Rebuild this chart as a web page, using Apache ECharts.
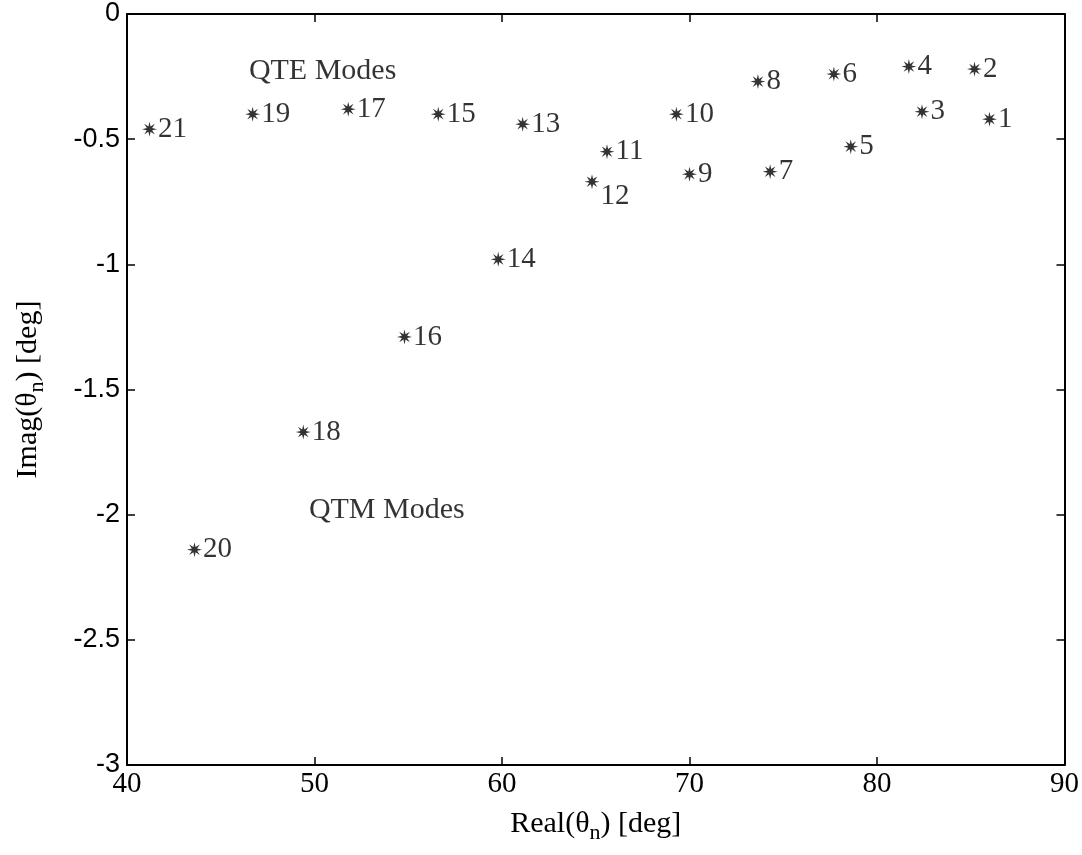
<!DOCTYPE html>
<html>
<head>
<meta charset="utf-8">
<script src="https://cdn.jsdelivr.net/npm/echarts@6/dist/echarts.min.js"></script>
<style>html,body{margin:0;padding:0;background:#fff;}#c{width:1082px;height:855px;}</style>
</head>
<body>
<div id="c"></div>
<script>
// ---- data ----
const modeIds  = ['1','2','3','4','5','6','7','8','9','10','11','12','13','14','15','16','17','18','19','20','21'];
const realPart = [86.0, 85.2, 82.4, 81.7, 78.6, 77.7, 74.3, 73.65, 70.0, 69.3, 65.6, 64.8, 61.1, 59.8, 56.6, 54.8, 51.8, 49.4, 46.7, 43.6, 41.2];
const imagPart = [-0.42, -0.22, -0.39, -0.21, -0.53, -0.24, -0.63, -0.27, -0.64, -0.40, -0.55, -0.67, -0.44, -0.98, -0.40, -1.29, -0.38, -1.67, -0.40, -2.14, -0.46];
const noteText = ['QTE Modes', 'QTM Modes'];
const noteX    = [46.5, 49.7];
const noteY    = [-0.23, -1.98];
const xTicks = {min: 40, max: 90, interval: 10};
const yTicks = {min: -3, max: 0, interval: 0.5};

// asterisk-like symbol (8 spokes)
function starPath() {
  const pts = [];
  for (let i = 0; i < 16; i++) {
    const a = Math.PI * i / 8;
    const r = (i % 2 === 0) ? 50 : 19;
    pts.push((50 + r * Math.sin(a)).toFixed(2) + ' ' + (50 - r * Math.cos(a)).toFixed(2));
  }
  return 'path://M' + pts.join(' L') + ' Z';
}

const pointData = realPart.map((x, i) => {
  const d = {value: [x, imagPart[i]], name: modeIds[i]};
  if (modeIds[i] === '12') d.label = {offset: [0, 15]};
  return d;
});
const noteData = noteText.map((t, i) => ({value: [noteX[i], noteY[i]], name: t}));

const serif = 'Liberation Serif, Times New Roman, serif';
const sans = 'Liberation Sans, Arial, sans-serif';

const chart = echarts.init(document.getElementById('c'));
chart.setOption({
  animation: false,
  backgroundColor: '#fff',
  grid: {left: 125, right: 15, top: 14, bottom: 90},
  xAxis: [{
    type: 'value', min: xTicks.min, max: xTicks.max, interval: xTicks.interval,
    position: 'bottom',
    axisLine: {show: true, onZero: false, lineStyle: {color: '#000', width: 2}},
    axisTick: {show: true, inside: true, length: 8, lineStyle: {color: '#000', width: 1.5}},
    axisLabel: {color: '#000', fontFamily: serif, fontSize: 29, margin: 5},
    splitLine: {show: false},
    name: '{a|Real(θ}{s|n}{a|) [deg]}',
    nameLocation: 'middle', nameGap: 40,
    nameTextStyle: {rich: {
      a: {fontFamily: serif, fontSize: 30, color: '#000', lineHeight: 34},
      s: {fontFamily: serif, fontSize: 22, color: '#000', padding: [18, 0, 0, 0], lineHeight: 34}
    }}
  }, {
    type: 'value', min: xTicks.min, max: xTicks.max, interval: xTicks.interval,
    position: 'top',
    axisLine: {show: true, onZero: false, lineStyle: {color: '#000', width: 2}},
    axisTick: {show: true, inside: true, length: 8, lineStyle: {color: '#000', width: 1.5}},
    axisLabel: {show: false}, splitLine: {show: false}
  }],
  yAxis: [{
    type: 'value', min: yTicks.min, max: yTicks.max, interval: yTicks.interval,
    position: 'left',
    axisLine: {show: true, onZero: false, lineStyle: {color: '#000', width: 2}},
    axisTick: {show: true, inside: true, length: 8, lineStyle: {color: '#000', width: 1.5}},
    axisLabel: {color: '#000', fontFamily: sans, fontSize: 27, margin: 7},
    splitLine: {show: false},
    name: '{a|Imag(θ}{s|n}{a|) [deg]}',
    nameLocation: 'middle', nameGap: 82, nameRotate: 90,
    nameTextStyle: {rich: {
      a: {fontFamily: serif, fontSize: 30, color: '#000', lineHeight: 34},
      s: {fontFamily: serif, fontSize: 22, color: '#000', padding: [18, 0, 0, 0], lineHeight: 34}
    }}
  }, {
    type: 'value', min: yTicks.min, max: yTicks.max, interval: yTicks.interval,
    position: 'right',
    axisLine: {show: true, onZero: false, lineStyle: {color: '#000', width: 2}},
    axisTick: {show: true, inside: true, length: 8, lineStyle: {color: '#000', width: 1.5}},
    axisLabel: {show: false}, splitLine: {show: false}
  }],
  series: [{
    name: 'modes', type: 'scatter',
    xAxisIndex: 0, yAxisIndex: 0,
    symbol: starPath(), symbolSize: 15,
    itemStyle: {color: '#000'},
    label: {
      show: true, position: 'right', distance: 1,
      formatter: p => p.name,
      color: '#000', fontFamily: serif, fontSize: 29
    },
    data: pointData
  }, {
    name: 'notes', type: 'scatter',
    xAxisIndex: 0, yAxisIndex: 0,
    symbolSize: 0,
    label: {
      show: true, position: 'right', distance: 0,
      formatter: p => p.name,
      color: '#000', fontFamily: serif, fontSize: 30
    },
    data: noteData
  }]
});
</script>
</body>
</html>
